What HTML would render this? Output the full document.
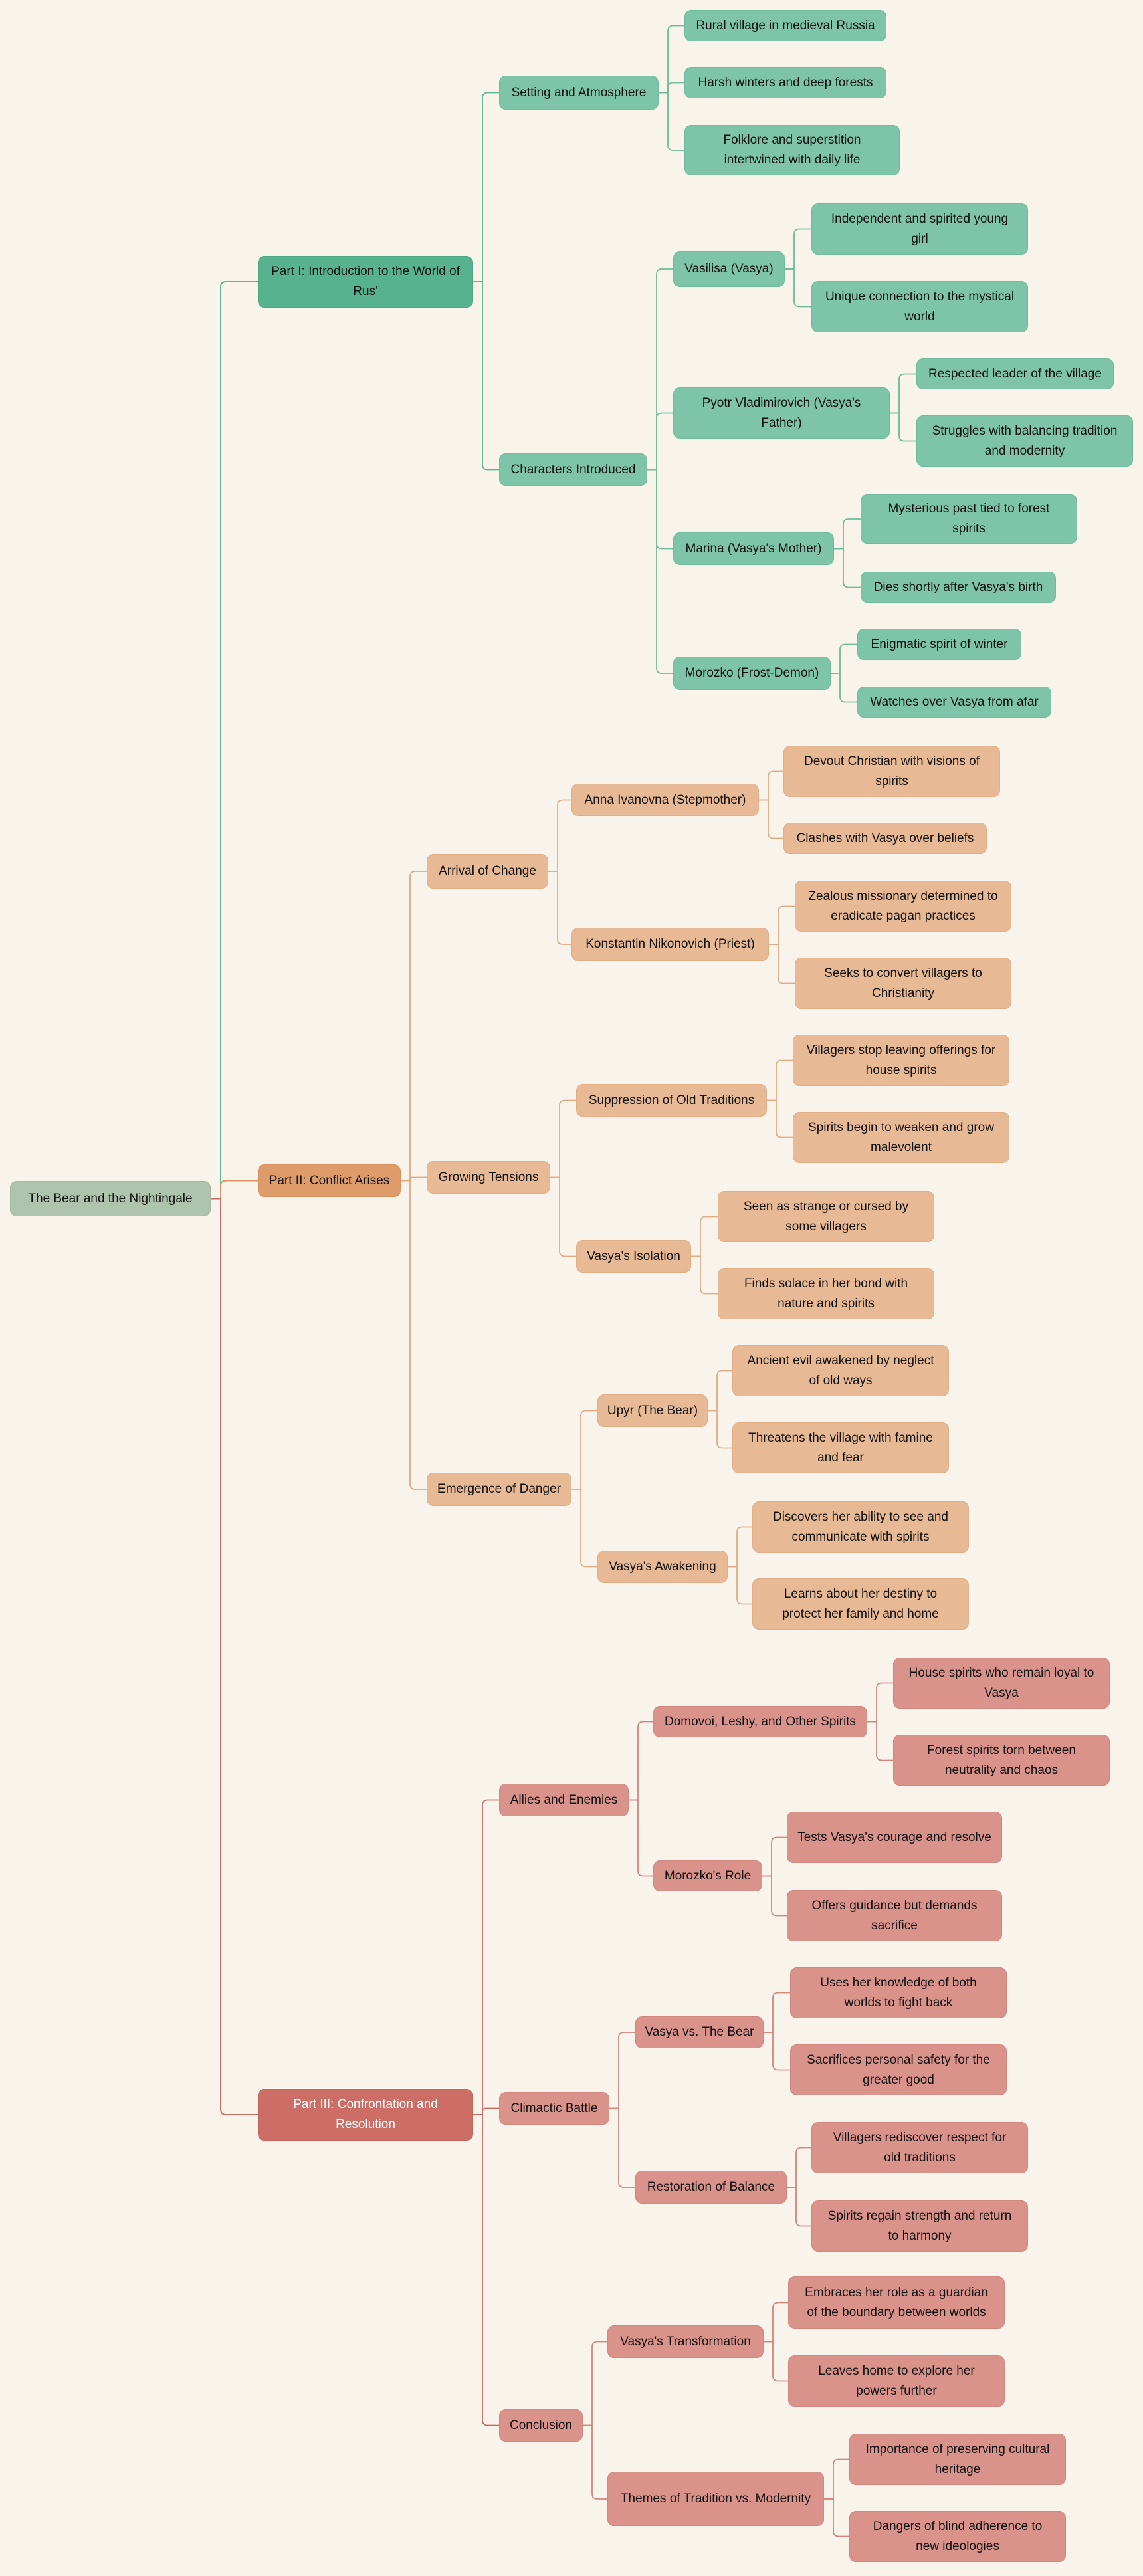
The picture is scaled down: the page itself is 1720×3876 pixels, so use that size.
<!DOCTYPE html>
<html><head><meta charset="utf-8">
<style>
html,body{margin:0;padding:0;background:#f8f4ec;}
#c{position:relative;width:1720px;height:3876px;overflow:hidden;background:#f8f4ec;}
.n{position:absolute;box-sizing:border-box;border-radius:10px;display:flex;align-items:center;justify-content:center;text-align:center;font-family:"Liberation Sans",sans-serif;font-size:19px;line-height:30px;color:#111;padding:0 17px;}
.g1{background:#57b290;border:1.5px solid #4fa884;}
.g{background:#7dc4a8;border:1.5px solid #6fbb9c;}
.o1{background:#de9c6b;border:1.5px solid #d99060;}
.o{background:#e7b994;border:1.5px solid #e2ae86;}
.r1{background:#cc6e66;border:1.5px solid #c5655d;color:#fff;}
.r{background:#d9938b;border:1.5px solid #d2877f;}
.root{background:#aec4ad;border:1.5px solid #a3bba2;}
svg{position:absolute;left:0;top:0;}
</style></head><body><div id="c">
<svg id="s" width="1720" height="3876"></svg>
<div class="n root" id="root" style="left:15px;top:1777px;width:302px;height:53px">The Bear and the Nightingale</div>
<div class="n g1" id="p1" style="left:388px;top:385px;width:324px;height:78px">Part I: Introduction to the World of Rus'</div>
<div class="n o1" id="p2" style="left:388px;top:1752px;width:215px;height:49px">Part II: Conflict Arises</div>
<div class="n r1" id="p3" style="left:388px;top:3143px;width:324px;height:78px">Part III: Confrontation and Resolution</div>

<div class="n g" id="a1" style="left:751px;top:114px;width:240px;height:51px">Setting and Atmosphere</div>
<div class="n g" id="a2" style="left:751px;top:682px;width:223px;height:49px">Characters Introduced</div>
<div class="n g" id="a11" style="left:1030px;top:15px;width:304px;height:47px">Rural village in medieval Russia</div>
<div class="n g" id="a12" style="left:1030px;top:101px;width:304px;height:47px">Harsh winters and deep forests</div>
<div class="n g" id="a13" style="left:1030px;top:188px;width:324px;height:76px">Folklore and superstition intertwined with daily life</div>
<div class="n g" id="a21" style="left:1013px;top:378px;width:168px;height:54px">Vasilisa (Vasya)</div>
<div class="n g" id="a211" style="left:1221px;top:306px;width:326px;height:77px">Independent and spirited young girl</div>
<div class="n g" id="a212" style="left:1221px;top:423px;width:326px;height:77px">Unique connection to the mystical world</div>
<div class="n g" id="a22" style="left:1013px;top:583px;width:326px;height:77px">Pyotr Vladimirovich (Vasya's Father)</div>
<div class="n g" id="a221" style="left:1379px;top:539px;width:297px;height:47px">Respected leader of the village</div>
<div class="n g" id="a222" style="left:1379px;top:625px;width:326px;height:77px">Struggles with balancing tradition and modernity</div>
<div class="n g" id="a23" style="left:1013px;top:801px;width:242px;height:49px">Marina (Vasya's Mother)</div>
<div class="n g" id="a231" style="left:1295px;top:744px;width:326px;height:74px">Mysterious past tied to forest spirits</div>
<div class="n g" id="a232" style="left:1295px;top:860px;width:294px;height:47px">Dies shortly after Vasya's birth</div>
<div class="n g" id="a24" style="left:1013px;top:988px;width:237px;height:50px">Morozko (Frost-Demon)</div>
<div class="n g" id="a241" style="left:1290px;top:946px;width:247px;height:47px">Enigmatic spirit of winter</div>
<div class="n g" id="a242" style="left:1290px;top:1033px;width:292px;height:47px">Watches over Vasya from afar</div>

<div class="n o" id="b1" style="left:642px;top:1285px;width:183px;height:52px">Arrival of Change</div>
<div class="n o" id="b2" style="left:642px;top:1747px;width:186px;height:49px">Growing Tensions</div>
<div class="n o" id="b3" style="left:642px;top:2216px;width:218px;height:50px">Emergence of Danger</div>
<div class="n o" id="b11" style="left:860px;top:1179px;width:282px;height:49px">Anna Ivanovna (Stepmother)</div>
<div class="n o" id="b111" style="left:1179px;top:1122px;width:326px;height:77px">Devout Christian with visions of spirits</div>
<div class="n o" id="b112" style="left:1179px;top:1238px;width:306px;height:47px">Clashes with Vasya over beliefs</div>
<div class="n o" id="b12" style="left:860px;top:1396px;width:297px;height:50px">Konstantin Nikonovich (Priest)</div>
<div class="n o" id="b121" style="left:1196px;top:1325px;width:326px;height:77px">Zealous missionary determined to eradicate pagan practices</div>
<div class="n o" id="b122" style="left:1196px;top:1441px;width:326px;height:77px">Seeks to convert villagers to Christianity</div>
<div class="n o" id="b21" style="left:867px;top:1631px;width:287px;height:49px">Suppression of Old Traditions</div>
<div class="n o" id="b211" style="left:1193px;top:1557px;width:326px;height:77px">Villagers stop leaving offerings for house spirits</div>
<div class="n o" id="b212" style="left:1193px;top:1673px;width:326px;height:77px">Spirits begin to weaken and grow malevolent</div>
<div class="n o" id="b22" style="left:867px;top:1866px;width:173px;height:49px">Vasya's Isolation</div>
<div class="n o" id="b221" style="left:1080px;top:1792px;width:326px;height:77px">Seen as strange or cursed by some villagers</div>
<div class="n o" id="b222" style="left:1080px;top:1908px;width:326px;height:77px">Finds solace in her bond with nature and spirits</div>
<div class="n o" id="b31" style="left:899px;top:2098px;width:166px;height:49px">Upyr (The Bear)</div>
<div class="n o" id="b311" style="left:1102px;top:2024px;width:326px;height:77px">Ancient evil awakened by neglect of old ways</div>
<div class="n o" id="b312" style="left:1102px;top:2140px;width:326px;height:77px">Threatens the village with famine and fear</div>
<div class="n o" id="b32" style="left:899px;top:2333px;width:196px;height:49px">Vasya's Awakening</div>
<div class="n o" id="b321" style="left:1132px;top:2259px;width:326px;height:77px">Discovers her ability to see and communicate with spirits</div>
<div class="n o" id="b322" style="left:1132px;top:2375px;width:326px;height:77px">Learns about her destiny to protect her family and home</div>

<div class="n r" id="c1" style="left:751px;top:2684px;width:195px;height:49px">Allies and Enemies</div>
<div class="n r" id="c2" style="left:751px;top:3148px;width:166px;height:49px">Climactic Battle</div>
<div class="n r" id="c3" style="left:751px;top:3625px;width:126px;height:49px">Conclusion</div>
<div class="n r" id="c11" style="left:983px;top:2567px;width:322px;height:47px">Domovoi, Leshy, and Other Spirits</div>
<div class="n r" id="c111" style="left:1344px;top:2494px;width:326px;height:77px">House spirits who remain loyal to Vasya</div>
<div class="n r" id="c112" style="left:1344px;top:2610px;width:326px;height:77px">Forest spirits torn between neutrality and chaos</div>
<div class="n r" id="c12" style="left:983px;top:2799px;width:164px;height:47px">Morozko's Role</div>
<div class="n r" id="c121" style="left:1184px;top:2726px;width:324px;height:77px;white-space:nowrap">Tests Vasya's courage and resolve</div>
<div class="n r" id="c122" style="left:1184px;top:2844px;width:324px;height:77px">Offers guidance but demands sacrifice</div>
<div class="n r" id="c21" style="left:956px;top:3034px;width:193px;height:48px">Vasya vs. The Bear</div>
<div class="n r" id="c211" style="left:1189px;top:2960px;width:326px;height:77px">Uses her knowledge of both worlds to fight back</div>
<div class="n r" id="c212" style="left:1189px;top:3076px;width:326px;height:77px">Sacrifices personal safety for the greater good</div>
<div class="n r" id="c22" style="left:956px;top:3266px;width:228px;height:50px">Restoration of Balance</div>
<div class="n r" id="c221" style="left:1221px;top:3193px;width:326px;height:77px">Villagers rediscover respect for old traditions</div>
<div class="n r" id="c222" style="left:1221px;top:3311px;width:326px;height:77px">Spirits regain strength and return to harmony</div>
<div class="n r" id="c31" style="left:914px;top:3499px;width:235px;height:49px">Vasya's Transformation</div>
<div class="n r" id="c311" style="left:1186px;top:3425px;width:326px;height:79px">Embraces her role as a guardian of the boundary between worlds</div>
<div class="n r" id="c312" style="left:1186px;top:3544px;width:326px;height:77px">Leaves home to explore her powers further</div>
<div class="n r" id="c32" style="left:914px;top:3719px;width:326px;height:82px">Themes of Tradition vs. Modernity</div>
<div class="n r" id="c321" style="left:1278px;top:3662px;width:326px;height:77px">Importance of preserving cultural heritage</div>
<div class="n r" id="c322" style="left:1278px;top:3778px;width:326px;height:77px">Dangers of blind adherence to new ideologies</div>
</div>
<script>
Array.prototype.forEach.call(document.querySelectorAll(".n"),function(e){if(e.offsetHeight<60){e.style.whiteSpace="nowrap";e.style.padding="0 4px";}});
var E=[["root","p1","#5fb594",2],["root","p2","#dd935f",2],["root","p3","#cc6b60",2],
["p1","a1"],["p1","a2"],["a1","a11"],["a1","a12"],["a1","a13"],["a2","a21"],["a2","a22"],["a2","a23"],["a2","a24"],
["a21","a211"],["a21","a212"],["a22","a221"],["a22","a222"],["a23","a231"],["a23","a232"],["a24","a241"],["a24","a242"],
["p2","b1"],["p2","b2"],["p2","b3"],["b1","b11"],["b1","b12"],["b2","b21"],["b2","b22"],["b3","b31"],["b3","b32"],
["b11","b111"],["b11","b112"],["b12","b121"],["b12","b122"],["b21","b211"],["b21","b212"],["b22","b221"],["b22","b222"],
["b31","b311"],["b31","b312"],["b32","b321"],["b32","b322"],
["p3","c1"],["p3","c2"],["p3","c3"],["c1","c11"],["c1","c12"],["c2","c21"],["c2","c22"],["c3","c31"],["c3","c32"],
["c11","c111"],["c11","c112"],["c12","c121"],["c12","c122"],["c21","c211"],["c21","c212"],["c22","c221"],["c22","c222"],
["c31","c311"],["c31","c312"],["c32","c321"],["c32","c322"]];
var s=document.getElementById("s"),h="";
function R(id){var e=document.getElementById(id);return{l:e.offsetLeft,t:e.offsetTop,w:e.offsetWidth,h:e.offsetHeight};}
E.forEach(function(x){var a=R(x[0]),b=R(x[1]);var col=x[2]||({a:"#6fbb9c",b:"#e2ab84",c:"#d2857d",p:""}[x[1][0]]);
if(x[0]=="p1")col="#5fb594";if(x[0]=="p2")col="#e2a878";if(x[0]=="p3")col="#cc6b60";
var w=x[3]||1.8;var x1=a.l+a.w,y1=a.t+a.h/2,x2=b.l,y2=b.t+b.h/2;var xm=x[0]=="root"?332:(x1+14);
var r=Math.min(8,Math.abs(y2-y1)/2),d=y2>y1?1:-1;
var p="M"+x1+" "+y1+" H"+xm;
if(Math.abs(y2-y1)>1){p+=" V"+(y2-d*r)+" Q"+xm+" "+y2+" "+(xm+r)+" "+y2;}
p+=" H"+x2;
h+='<path d="'+p+'" fill="none" stroke="'+col+'" stroke-width="'+w+'"/>';});
s.innerHTML=h;
</script>
</body></html>
